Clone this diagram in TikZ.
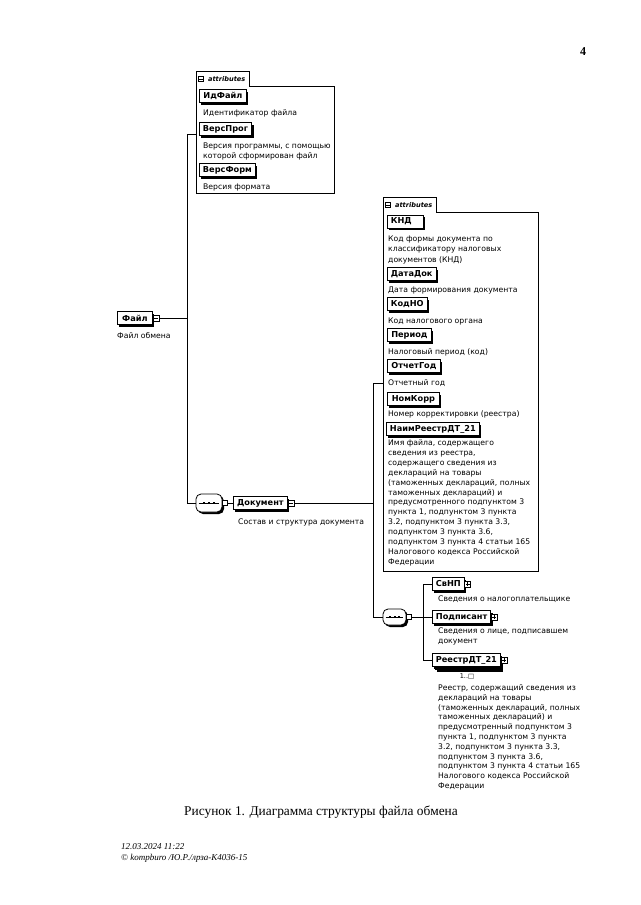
\documentclass[tikz,border=0pt]{standalone}
\usepackage{fontspec}
\setmainfont{Liberation Serif}
\newfontfamily\dvsans{DejaVu Sans}
\usetikzlibrary{shadows}
\begin{document}
\begin{tikzpicture}[x=1pt,y=-1pt,
  conn/.style={draw, line width=0.8pt},
  elem/.style={draw, fill=white, line width=0.8pt, anchor=west,
    font={\dvsans\bfseries\fontsize{8.2}{9}\selectfont},
    inner xsep=3.5pt, inner ysep=0pt, minimum height=13pt,
    drop shadow={shadow xshift=2pt, shadow yshift=-2pt, fill=black, opacity=1}},
  elemback/.style={draw, fill=white, line width=0.8pt, anchor=west,
    inner sep=0pt, minimum height=13pt,
    drop shadow={shadow xshift=2pt, shadow yshift=-2pt, fill=black, opacity=1}},
  desc/.style={anchor=north west, inner sep=0pt, align=left, yshift=3.5pt,
    font={\dvsans\fontsize{7.7}{10}\selectfont},
    execute at begin node={\rule{0pt}{6pt}}},
  longdesc/.style={desc, font={\dvsans\fontsize{7.7}{9.9}\selectfont}},
  abox/.style={anchor=north west, inner sep=0pt},
  tab/.style={anchor=south west, inner xsep=0pt, inner ysep=0pt,
    minimum width=53pt, minimum height=14pt,
    font={\dvsans\bfseries\itshape\fontsize{6.6}{7}\selectfont}},
  sqr/.style={draw, fill=white, line width=0.6pt, minimum size=6pt, inner sep=0pt},
  pmminus/.style={sqr, path picture={\draw[line width=0.5pt]
      ([xshift=1.2pt]path picture bounding box.west) -- ([xshift=-1.2pt]path picture bounding box.east);}},
  pmplus/.style={sqr, path picture={\draw[line width=0.5pt]
      ([xshift=1.2pt]path picture bounding box.west) -- ([xshift=-1.2pt]path picture bounding box.east)
      ([yshift=1.2pt]path picture bounding box.south) -- ([yshift=-1.2pt]path picture bounding box.north);}},
  port/.style={draw, fill=white, line width=0.6pt, minimum size=5pt, inner sep=0pt},
  seqc/.style={draw, fill=white, line width=0.8pt, rounded corners=5pt, inner sep=0pt,
    drop shadow={shadow xshift=2pt, shadow yshift=-2pt, fill=black, opacity=1}},
]
\fill[white] (0,0) rectangle (640,905);
\useasboundingbox (0,0) rectangle (640,905);

% page number
\node[font={\bfseries\fontsize{12}{14}\selectfont}] (pgnum) at (583,52) {4};

% ---------- attributes box 1
\node[abox, minimum width=138pt, minimum height=107pt] (ab1) at (196,86) {};
\node[tab] (tab1) at (196,86) {\hspace*{8pt}attributes};
\draw[conn, line width=0.7pt] (tab1.south east) -- (ab1.north east) -- (ab1.south east)
  -- (ab1.south west) -- (tab1.north west) -- (tab1.north east) -- cycle;
\node[pmminus, minimum size=5.5pt] (tm1) at ([xshift=5pt]tab1.west) {};

\node[elem, minimum width=47pt] (idf) at (199,96) {ИдФайл};
\node[desc] (didf) at (203,113) {Идентификатор файла};
\node[elem, minimum width=52pt] (vprog) at (199,129) {ВерсПрог};
\node[desc, font={\dvsans\fontsize{7.7}{10.5}\selectfont}] (dvprog) at (203,146) {Версия программы, с помощью\\которой сформирован файл};
\node[elem, minimum width=56pt] (vform) at (199,170) {ВерсФорм};
\node[desc] (dvform) at (203,186.5) {Версия формата};

% ---------- root element
\node[elem, minimum width=35pt] (fayl) at (117,318) {Файл};
\node[pmminus] (pmF) at ([xshift=3pt]fayl.east) {};
\node[desc] (dfayl) at (117,336) {Файл обмена};

\coordinate (v1t) at (187,134);
\coordinate (v1b) at (187,503);
\draw[conn] (v1t) -- (v1b);
\draw[conn] (v1t) -- (v1t -| ab1.west);
\draw[conn] (pmF.east) -- (pmF.east -| v1t);

% ---------- sequence 1 and Документ
\node[seqc, minimum width=26pt, minimum height=18pt] (seq1) at (209,503) {};
\draw[line width=0.6pt] ([xshift=3pt]seq1.west) -- ([xshift=-3pt]seq1.east);
\foreach \d in {-5,0,5} \fill ([xshift=\d pt]seq1.center) +(-1,-1) rectangle +(1,1);
\node[port] (p1) at ([xshift=2pt]seq1.east) {};
\draw[conn] (v1b) -- (seq1.west);

\node[elem, minimum width=54pt] (dok) at (233,503) {Документ};
\node[pmminus] (pmD) at ([xshift=3pt]dok.east) {};
\node[desc] (ddok) at (238,522) {Состав и структура документа};
\draw[conn] (p1.east) -- (dok.west);

\coordinate (v2t) at (373,383);
\coordinate (v2b) at (373,617);
\draw[conn] (pmD.east) -- (pmD.east -| v2t);
\draw[conn] (v2t) -- (v2b);

% ---------- attributes box 2
\node[abox, minimum width=155pt, minimum height=359pt] (ab2) at (383,212) {};
\node[tab] (tab2) at (383,212) {\hspace*{8pt}attributes};
\draw[conn, line width=0.7pt] (tab2.south east) -- (ab2.north east) -- (ab2.south east)
  -- (ab2.south west) -- (tab2.north west) -- (tab2.north east) -- cycle;
\node[pmminus, minimum size=5.5pt] (tm2) at ([xshift=5pt]tab2.west) {};
\draw[conn] (v2t) -- (v2t -| ab2.west);

\node[elem, text width=29pt, align=left] (knd) at (387,221.5) {КНД};
\node[desc, font={\dvsans\fontsize{7.7}{10.5}\selectfont}] (dknd) at (388,239) {Код формы документа по\\классификатору налоговых\\документов (КНД)};
\node[elem, minimum width=46pt] (datadok) at (387,274) {ДатаДок};
\node[desc] (ddatadok) at (388,290) {Дата формирования документа};
\node[elem, minimum width=39pt] (kodno) at (387,304) {КодНО};
\node[desc] (dkodno) at (388,321) {Код налогового органа};
\node[elem, minimum width=44pt] (period) at (387,335) {Период};
\node[desc] (dperiod) at (388,352) {Налоговый период (код)};
\node[elem, minimum width=53pt] (otchgod) at (387,366) {ОтчетГод};
\node[desc] (dotchgod) at (388,382.5) {Отчетный год};
\node[elem, minimum width=52pt] (nomkorr) at (387,399) {НомКорр};
\node[desc] (dnomkorr) at (388,414) {Номер корректировки (реестра)};
\node[elem, minimum width=88pt] (naim) at (386,429) {НаимРеестрДТ\_21};
\node[longdesc] (dnaim) at (388,443) {Имя файла, содержащего\\сведения из реестра,\\содержащего сведения из\\деклараций на товары\\(таможенных деклараций, полных\\таможенных деклараций) и\\предусмотренного подпунктом 3\\пункта 1, подпунктом 3 пункта\\3.2, подпунктом 3 пункта 3.3,\\подпунктом 3 пункта 3.6,\\подпунктом 3 пункта 4 статьи 165\\Налогового кодекса Российской\\Федерации};

% ---------- sequence 2 and children
\node[seqc, minimum width=23pt, minimum height=16pt] (seq2) at (394.5,617) {};
\draw[line width=0.6pt] ([xshift=3pt]seq2.west) -- ([xshift=-3pt]seq2.east);
\foreach \d in {-4.5,0,4.5} \fill ([xshift=\d pt]seq2.center) +(-1,-1) rectangle +(1,1);
\node[port] (p2) at ([xshift=2pt]seq2.east) {};
\draw[conn] (v2b) -- (seq2.west);

\coordinate (v3t) at (423,584);
\coordinate (v3b) at (423,660);
\draw[conn] (p2.east) -- (p2.east -| v3t);
\draw[conn] (v3t) -- (v3b);

\node[elem, minimum width=29pt] (svnp) at (432,584) {СвНП};
\node[pmplus] (pmS) at ([xshift=3pt]svnp.east) {};
\node[desc] (dsvnp) at (438,599) {Сведения о налогоплательщике};
\draw[conn] (v3t) -- (svnp.west);

\node[elem, minimum width=52pt] (podp) at (432,617) {Подписант};
\node[pmplus] (pmP) at ([xshift=3pt]podp.east) {};
\node[desc] (dpodp) at (438,631) {Сведения о лице, подписавшем\\документ};
\draw[conn] (podp.west -| v3t) -- (podp.west);

\node[elemback, minimum width=66pt] (reestrbk) at (435,663) {};
\node[elem, minimum width=66pt] (reestr) at (432,660) {РеестрДТ\_21};
\node[pmplus] (pmR) at ([xshift=3pt]reestr.east) {};
\draw[conn] (v3b) -- (reestr.west);
\node[font={\dvsans\fontsize{6.5}{7}\selectfont}, inner sep=0pt] (occ) at (467,677) {1..□};
\node[longdesc, font={\dvsans\fontsize{7.7}{9.8}\selectfont}] (dreestr) at (438,688) {Реестр, содержащий сведения из\\деклараций на товары\\(таможенных деклараций, полных\\таможенных деклараций) и\\предусмотренный подпунктом 3\\пункта 1, подпунктом 3 пункта\\3.2, подпунктом 3 пункта 3.3,\\подпунктом 3 пункта 3.6,\\подпунктом 3 пункта 4 статьи 165\\Налогового кодекса Российской\\Федерации};

% ---------- caption and footer
\node[font={\fontsize{13.4}{16}\selectfont}] (cap) at (321,812) {Рисунок 1. Диаграмма структуры файла обмена};
\node[anchor=west, inner sep=0pt, font={\itshape\fontsize{9}{10}\selectfont}] (foot1) at (121,847) {12.03.2024 11:22};
\node[anchor=west, inner sep=0pt, font={\itshape\fontsize{9}{10}\selectfont}] (foot2) at (121,858) {© kompburo /Ю.Р./лрза-К4036-15};
\end{tikzpicture}
\end{document}
